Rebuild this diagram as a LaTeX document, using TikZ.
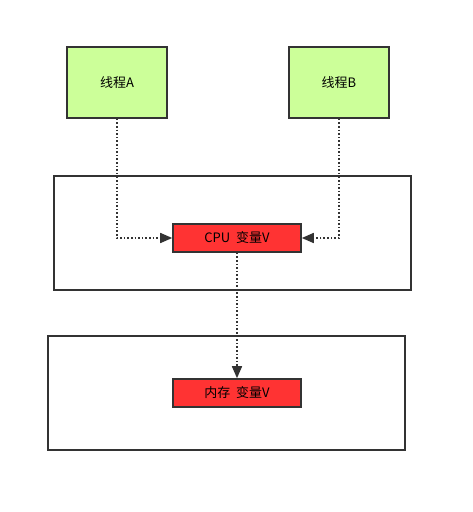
\documentclass[tikz,border=0pt]{standalone}
\usepackage{fontspec}
\setmainfont{Liberation Sans}
\newfontfamily\cjk{Noto Sans CJK SC}
\usetikzlibrary{arrows.meta}
\definecolor{thgreen}{HTML}{CCFF99}
\definecolor{varred}{HTML}{FF3333}
\definecolor{edge}{HTML}{333333}
\begin{document}
\begin{tikzpicture}[x=1pt,y=-1pt,
  thread/.style={draw=edge,line width=1.6pt,fill=thgreen,minimum width=100pt,minimum height=71pt,inner sep=0pt,font=\fontsize{13}{15}\selectfont\cjk},
  varbox/.style={draw=edge,line width=1.6pt,fill=varred,minimum width=128pt,minimum height=28pt,inner sep=0pt,font=\fontsize{13}{15}\selectfont\cjk},
  outer/.style={draw=edge,line width=1.4pt,fill=white,minimum width=357pt,minimum height=114pt,inner sep=0pt},
  conn/.style={draw=edge,line width=1.6pt,dotted,-{Triangle[length=12pt,width=10pt]}}]
\useasboundingbox (0,0) rectangle (473,512);
\node[outer] (o1) at (232.5,233) {};
\node[outer] (o2) at (226.5,393) {};
\node[thread] (ta) at (117,82.5) {线程A};
\node[thread] (tb) at (339,82.5) {线程B};
\node[varbox] (cpu) at (237,238) {CPU\ \ 变量V};
\node[varbox] (mem) at (237,393) {内存\ \ 变量V};
\draw[conn] (ta.south) |- (cpu.west);
\draw[conn] (tb.south) |- (cpu.east);
\draw[conn] (cpu.south) -- (mem.north);
\end{tikzpicture}
\end{document}
